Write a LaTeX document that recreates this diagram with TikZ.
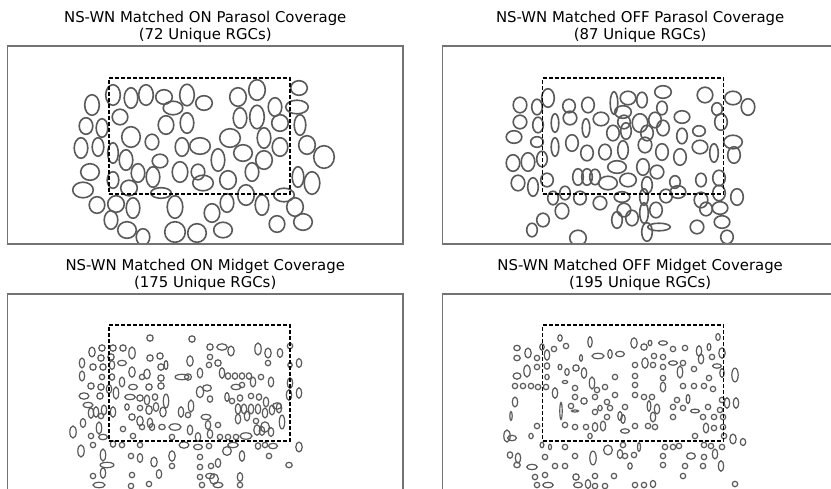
\documentclass[tikz,border=0pt]{standalone}
\usepackage{fontspec}
\setmainfont{DejaVu Sans}
\usepackage{tikz}
\usetikzlibrary{positioning}

\definecolor{framegray}{gray}{0.45}
\definecolor{cellgray}{gray}{0.35}

\begin{document}
\begin{tikzpicture}[x=1pt,y=-1pt]
	\tikzstyle{panel} = [draw=framegray, line width=1.5pt, minimum width=395.5pt, minimum height=198pt, inner sep=0pt]
	\tikzstyle{heading} = [align=center, inner sep=0pt, font=\fontsize{14.9}{16.8}\selectfont]
	\tikzstyle{roi} = [draw, dash pattern=on 4pt off 2pt, line width=1.1pt, minimum width=181pt, minimum height=116pt, inner sep=0pt]
	\tikzstyle{bigcell} = [draw=cellgray, line width=1.6pt]
	\tikzstyle{smallcell} = [draw=cellgray, line width=1.2pt]
	
	\useasboundingbox (0,0) rectangle (831,488);
	\clip (0,0) rectangle (831,488);
	
	\node [panel] (onpar) at (205.25,145) {};
	\node [panel, right = 37.9pt of onpar] (offpar) {};
	\node [panel, below = 48.6pt of onpar] (onmid) {};
	\node [panel, below = 48.6pt of offpar] (offmid) {};
	
	\node [heading, above = 2.5pt of onpar] (onpartitle) {NS-WN Matched ON Parasol Coverage\\(72 Unique RGCs)};
	\node [heading, above = 2.5pt of offpar] (offpartitle) {NS-WN Matched OFF Parasol Coverage\\(87 Unique RGCs)};
	\node [heading, above = 2.5pt of onmid] (onmidtitle) {NS-WN Matched ON Midget Coverage\\(175 Unique RGCs)};
	\node [heading, above = 2.5pt of offmid] (offmidtitle) {NS-WN Matched OFF Midget Coverage\\(195 Unique RGCs)};
	
	\begin{scope}
	\clip (onpar.north west) rectangle (onpar.south east);
	\foreach \x/\y/\a/\b in {113/95/7/10, 131/98/6.5/10, 146/95/7/10, 164/97/8/7, 187/95/7/10.5, 204/103/8/7, 173/108/9.5/6.5, 92/105/7/10, 238/97/8/9, 257/90/8/10, 275/107/6.5/9, 299/88/8/7, 297/107/11/6.5, 240/118/6.5/10, 257/117/7/11.5, 280/123/8/8, 300/125/5.5/10, 120/117/7.5/7.5, 166/125/7.5/9, 187/123/6.5/10, 86/126/6.5/8, 102/128/5.5/9, 131/137/9/10, 152/142/6.5/7.5, 230/138/10/9, 264/138/6.5/10, 280/147/7.5/9, 307/145/8/9, 324/157/10/11, 81/148/6.5/10, 98/147/5.5/9, 113/153/5/10, 182/147/6.5/9, 200/146/10/8, 243/153/9/8, 264/160/8/9, 126/160/6.5/10, 160/161/7.5/6.5, 218/160/6.5/11, 90/172/9/8, 138/173/6.5/9, 153/177/6.5/10, 180/172/7.5/10, 198/172/6.5/7.5, 228/180/8/9, 252/172/6.5/9, 298/177/5.5/10, 312/183/7.5/11, 113/180/5.5/8, 203/183/10/7.5, 83/190/10/7.5, 129/188/8/7.5, 161/193/10/5, 246/195/8/10, 284/195/10/6.5, 97/205/7.5/8, 116/204/8/8, 133/208/6.5/10, 175/207/7.5/11, 212/213/7.5/9, 227/203/6.5/9, 262/205/6.5/10, 295/207/8/9, 111/220/6.5/9, 127/230/9/8, 143/237/6.5/8, 175/232/10/10, 197/233/9/9, 223/230/9/7.5, 277/224/7.5/8, 303/222/9/8}
		\draw [bigcell] (\x,\y) ellipse [x radius=\a+0.3, y radius=\b+0.3];
	\end{scope}
	
	\begin{scope}
	\clip (offpar.north west) rectangle (offpar.south east);
	\foreach \x/\y/\a/\b in {520/105/6.5/7.5, 537/107/5/7.5, 548/98/6/9, 569/106/6/6.5, 588/105/6/7.5, 614/103/3.5/11, 628/98/7.5/6.5, 642/100/5/7.5, 663/92/8/6, 705/95/7.5/7.5, 733/98/8/6.5, 748/107/6.5/8, 623/112/8/6, 662/108/5/6.5, 717/109/5/6, 520/122/6.5/6.5, 538/125/5/7.5, 555/123/3.5/9, 570/118/6.5/6.5, 586/128/3.5/9, 601/119/7.5/6.5, 624/122/6/6.5, 640/123/7.5/9, 655/120/6/7.5, 663/128/6/7.5, 682/117/7.5/6, 699/131/6/5, 721/122/6/8, 514/137/7.5/6, 537/142/6/5, 613/133/6/7.5, 626/131/5/8, 647/133/6/7.5, 682/136/5/7.5, 733/142/9/6.5, 555/147/3.5/9, 572/143/6/8, 587/153/6/7.5, 605/152/6/7.5, 623/150/5/9, 645/145/6.5/7.5, 662/152/6/8, 680/157/6/8, 700/147/7.5/6.5, 714/153/4/9, 734/155/6/8, 513/163/6.5/8, 528/162/6.5/9, 542/159/5/7.5, 617/167/9/6, 643/167/6/8, 657/172/6.5/6.5, 578/177/5/8, 587/177/5/8, 595/177/5/7.5, 608/183/9/6.5, 628/180/8/6.5, 647/185/5/8, 675/182/5/6, 701/180/5/6.5, 719/178/6/7.5, 518/183/6.5/7.5, 533/187/5/9, 547/180/6/6.5, 565/193/5/6.5, 580/198/6/6.5, 600/203/6.5/6.5, 622/197/7.5/5, 644/197/4/8, 666/196/6/6.5, 678/192/7.5/6, 701/200/6.5/7.5, 719/193/6/7.5, 737/197/6/8, 553/198/5/6.5, 562/211/6.5/7.5, 624/210/6.5/6.5, 644/213/4/10, 656/210/6/7.5, 706/209/6/6.5, 720/208/7.5/6, 543/220/6/6.5, 532/230/5/6.5, 617/220/5/8, 632/218/6/7.5, 659/227/11/3.5, 647/232/5/9, 697/227/6.5/6.5, 722/222/7.5/6, 727/237/6/6.5, 578/238/8/7.5}
		\draw [bigcell] (\x,\y) ellipse [x radius=\a+0.3, y radius=\b+0.3];
	\end{scope}
	
	\begin{scope}
	\clip (onmid.north west) rectangle (onmid.south east);
	\foreach \x/\y/\a/\b in {92/352/3/4.7, 102/348/3/3, 113/348/3/3, 123/348/3/3, 132/353/3/5.8, 150/338/3/3, 150/358/3/3, 160/356/3/3, 111/357/3/3, 101/358/3/3, 82/363/2.5/4.7, 93/367/3/3, 103/367/3/3, 112/365/2.5/4.2, 122/363/4.2/2.5, 132/372/3/5, 142/377/2.5/2.5, 147/374/3/4.7, 161/367/3/3, 166/365/1.7/4.2, 182/377/6.7/2.5, 82/376/2.5/4.7, 102/377/2.5/2.5, 112/377/2.5/3, 122/382/2.5/4.7, 133/387/4.2/2.5, 149/387/3/3, 161/378/3/3, 161/386/3/3, 91/386/3/3, 101/387/3/3, 109/389/2.5/4.2, 116/393/2.5/5.8, 84/396/4.7/3, 100/396/3/3, 130/397/5/2.5, 140/398/3/3, 147/400/2.5/4.7, 155/397/2.5/3, 166/401/2.5/6.7, 88/405/4.7/2.5, 91/413/2.5/5, 96/412/2.5/5, 104/410/2.5/4.7, 113/412/2.5/5, 127/407/2/3, 140/408/2.5/2.5, 149/410/3/4.2, 156/407/2.5/4.2, 163/412/3/4.7, 181/412/2.5/5, 101/416/2.5/2.5, 132/417/3/3, 140/421/3/4.7, 150/423/2.5/4.7, 83/423/2.5/4.2, 73/432/3/5.8, 99/428/2.5/5.8, 91/436/2.5/2.5, 103/437/4.2/2.5, 123/429/2.5/2.5, 133/436/2.5/2.5, 142/427/2.5/2.5, 152/427/2.5/3.3, 162/427/3/2.5, 175/427/5.8/3, 172/437/2.5/2.5, 113/444/2.5/3, 122/445/2.5/2.5, 140/445/2.5/2.5, 184/445/4.7/3, 93/445/2.5/2.5, 81/451/3/5.8, 103/455/2.5/5.8, 131/456/2.5/2.5, 140/458/2.5/4.2, 154/462/3/4.7, 172/456/3/5, 172/466/2.5/2.5, 107/465/6.7/2.5, 93/476/2.5/2.5, 103/473/2.5/5, 132/475/2.5/2.5, 159/474/2.5/4.2, 99/485/5.8/2.5, 131/486/2.5/2.5, 149/484/2.5/2.5, 192/339/3/3, 210/347/3/3, 222/347/5/3, 231/351/3/4.7, 210/357/2.5/2.5, 190/361/3/5, 209/365/2.5/2.5, 218/363/3/3, 258/349/3/5.8, 268/353/3/4.7, 280/353/2.5/4.2, 290/346/2.5/2.5, 268/363/2.5/2.5, 290/365/2/2.5, 299/363/2.5/4.2, 188/377/3.3/3, 200/373/2.5/4.7, 222/373/2.5/5, 228/376/2.5/3, 235/376/2.5/3, 242/376/2.5/3, 249/376/2.5/3, 253/382/2.5/4.7, 261/377/2.5/2.5, 271/382/2.5/4.7, 290/383/2.5/5, 236/387/4.7/2.5, 242/385/2.5/2.5, 200/392/3.5/5.5, 207/388/4.2/3, 210/399/2.5/3, 227/397/2/4.2, 232/401/2.5/2.5, 240/398/2.5/3, 251/396/2.5/2.5, 259/397/2.5/3, 266/402/2.5/4.7, 277/406/4.2/3, 289/395/2.5/5, 299/393/2.5/5, 191/406/2.5/5.8, 238/409/2.5/5, 244/409/2.5/4.7, 251/409/2.5/4.7, 258/409/2.5/4.7, 265/413/2.5/4.7, 272/410/2.5/4.7, 279/408/2.5/4.7, 188/415/2.5/2.5, 206/417/4.7/2.5, 208/425/2.5/4.2, 218/425/2.5/2.5, 238/419/2.5/4.7, 247/416/2.5/4.7, 256/421/2.5/2.5, 265/427/4.2/5, 282/422/2.5/6.7, 190/430/2.5/4.7, 198/437/2.5/4.2, 210/434/2.5/4.2, 220/437/2.5/2.5, 228/437/2.5/2.5, 236/437/2.5/2.5, 246/436/5.8/3, 257/430/3/5, 262/431/2.5/4.2, 271/432/2.5/4.2, 198/447/4.2/2.5, 209/446/2.5/2.5, 233/445/5/2.5, 258/446/2.5/3, 265/445/2.5/2.5, 273/446/4.2/2.5, 227/451/4.2/4.2, 299/447/3/4.7, 200/457/2.5/2.5, 242/456/2.5/5, 269/456/2.5/2.5, 200/467/2.5/2.5, 211/466/2.5/2.5, 218/463/2.5/4.2, 289/465/3/2.5, 200/477/2.5/2.5, 210/476/4.2/2.5, 214/479/4.2/5, 240/477/2.5/4.2, 202/485/2.5/2.5, 218/485/4.7/2.5, 240/485/2.5/2.5}
		\draw [smallcell] (\x,\y) ellipse [x radius=\a+0.2, y radius=\b+0.2];
	\end{scope}
	
	\begin{scope}
	\clip (offmid.north west) rectangle (offmid.south east);
	\foreach \x/\y/\a/\b in {560/338/2/3, 590/342/2/5, 517/348/3/2.5, 528/353/3/4.7, 542/347/2/3, 547/355/2.5/5, 554/349/2.5/2.5, 566/346/2.5/2.5, 598/356/5.8/2.5, 610/354/2/4.2, 620/354/4.2/2.5, 517/358/3/2.5, 537/358/2.5/2.5, 581/358/1.3/3, 527/371/3/5.8, 537/367/2.5/2.5, 547/366/2.5/3, 560/367/1.7/2.5, 567/372/2/3.3, 576/368/3/3, 584/373/2.5/5, 517/376/3.7/3, 547/377/2/2.5, 565/382/2.5/1.3, 592/383/2.5/5.8, 615/377/2.5/2.5, 515/386/2.5/2.5, 523/386/2.5/2.5, 531/386/2.5/2.5, 538/387/2.5/2.5, 546/387/2.5/2.5, 555/393/2.5/5, 575/388/2.5/2.5, 597/390/2.5/2.5, 605/387/2.5/2.5, 615/395/2.5/2.5, 575/397/2.5/2.5, 584/401/3/3, 595/397/2.5/2.5, 515/402/2.5/4.7, 607/402/2.5/2.5, 571/406/2.5/2.5, 561/411/1/8.3, 575/411/3.3/0.8, 595/412/2.5/2.5, 600/408/2/2.5, 610/408/2.5/2.5, 511/416/1/4.2, 607/417/2.5/2.5, 620/416/2/4.2, 537/426/2.5/2.5, 565/425/2.5/2.5, 575/427/2.5/2.5, 586/427/2.5/2.5, 595/427/2.5/4.2, 603/426/2.5/4.7, 507/436/3/5.8, 531/436/2/2.5, 590/436/2/2.5, 512/438/4.2/2.5, 542/445/1.7/2.5, 550/447/1.3/2.5, 565/447/2.5/2.5, 510/455/2.5/3, 518/458/2.5/4.7, 517/465/3/2.5, 545/457/2.5/2.5, 575/456/2.5/2.5, 593/458/3/6.7, 608/450/4.2/4.7, 620/454/2.5/4.2, 532/467/5/2.5, 555/466/2.5/2.5, 565/466/2.5/2.5, 535/477/2.5/2.5, 545/475/2.5/2.5, 576/477/3/3, 595/476/2.5/2.5, 614/476/2.5/2.5, 537/485/2.5/2.5, 548/485/5/2.5, 578/485/4.2/2.5, 588/484/2.5/4.2, 595/486/2.5/2.5, 605/486/2.5/2.5, 634/343/3/5, 644/347/3/3, 650/343/1.7/2.5, 663/343/4.2/2, 673/349/2.5/2.5, 685/348/2.5/2.5, 699/351/2.5/5, 709/347/1.7/3.3, 718/337/2/3.3, 722/353/3/5, 635/365/2.5/2.5, 645/363/3/5, 654/356/2.5/2.5, 653/365/2.5/2.5, 663/357/2.5/2.5, 663/367/2.5/2.5, 673/363/4.2/2, 683/363/2.5/2.5, 701/359/2.5/4.7, 712/357/2.5/2.5, 717/366/4.2/2, 680/372/2.5/5.8, 694/369/2.5/2.5, 722/373/2/4.2, 735/375/3/6.7, 635/376/2.5/2.5, 663/378/2.5/2.5, 709/378/2.5/2.5, 635/385/2.5/2.5, 663/387/2.5/4.7, 683/386/2.5/2.5, 694/386/2.5/2.5, 704/386/2.5/2.5, 713/389/2.5/2.5, 635/395/2.5/2.5, 644/397/2.5/2.5, 652/397/2.5/2.5, 677/400/2.5/2.5, 688/399/1.7/4.2, 722/400/2.5/2.5, 727/403/2.5/5, 736/403/2.5/5, 625/407/2.5/2.5, 649/406/1.7/5, 657/409/2.5/4.7, 673/407/2.5/2.5, 683/408/2.5/2.5, 695/411/4.2/1.7, 708/407/2.5/2.5, 720/410/2.5/2.5, 653/417/2.5/4.7, 673/417/2.5/2.5, 703/417/2.5/2.5, 714/417/2.5/2.5, 723/417/2.5/2.5, 623/419/2/4.2, 635/426/2.5/2.5, 648/426/2.5/2.5, 655/427/2.5/2.5, 706/428/2.5/4.7, 714/428/2.5/2.5, 723/427/2.5/2.5, 625/431/4.2/2, 695/436/2.5/2.5, 724/436/2.5/2.5, 733/439/3/4.7, 743/442/2.5/3.3, 623/445/2.5/2.5, 639/447/1.3/4.2, 665/447/2.5/2.5, 673/447/2.5/2.5, 679/446/2.5/2.5, 704/445/2.5/2.5, 711/446/2.5/2.5, 722/447/2.5/2.5, 715/454/2.5/4.7, 625/456/2.5/2.5, 634/455/2.5/2.5, 663/456/2.5/2.5, 691/456/4.2/3, 704/457/2.5/2.5, 630/466/2/3, 663/465/2.5/2.5, 685/466/2.5/2.5, 703/466/2.5/2.5, 721/466/2.5/5, 683/476/2.5/2.5, 635/485/2.5/2.5, 644/485/2.5/2.5, 653/484/2.5/3.3, 735/484/2.5/2.5}
		\draw [smallcell] (\x,\y) ellipse [x radius=\a+0.2, y radius=\b+0.2];
	\end{scope}
	
	\node [roi] (onparroi) at (199.5,136) {};
	\node [roi] (offparroi) at (633,136) {};
	\node [roi] (onmidroi) at (199.5,383) {};
	\node [roi] (offmidroi) at (633,383) {};
	
	\node [panel] at (onpar) {};
	\node [panel] at (offpar) {};
	\node [panel] at (onmid) {};
	\node [panel] at (offmid) {};
\end{tikzpicture}
\end{document}
